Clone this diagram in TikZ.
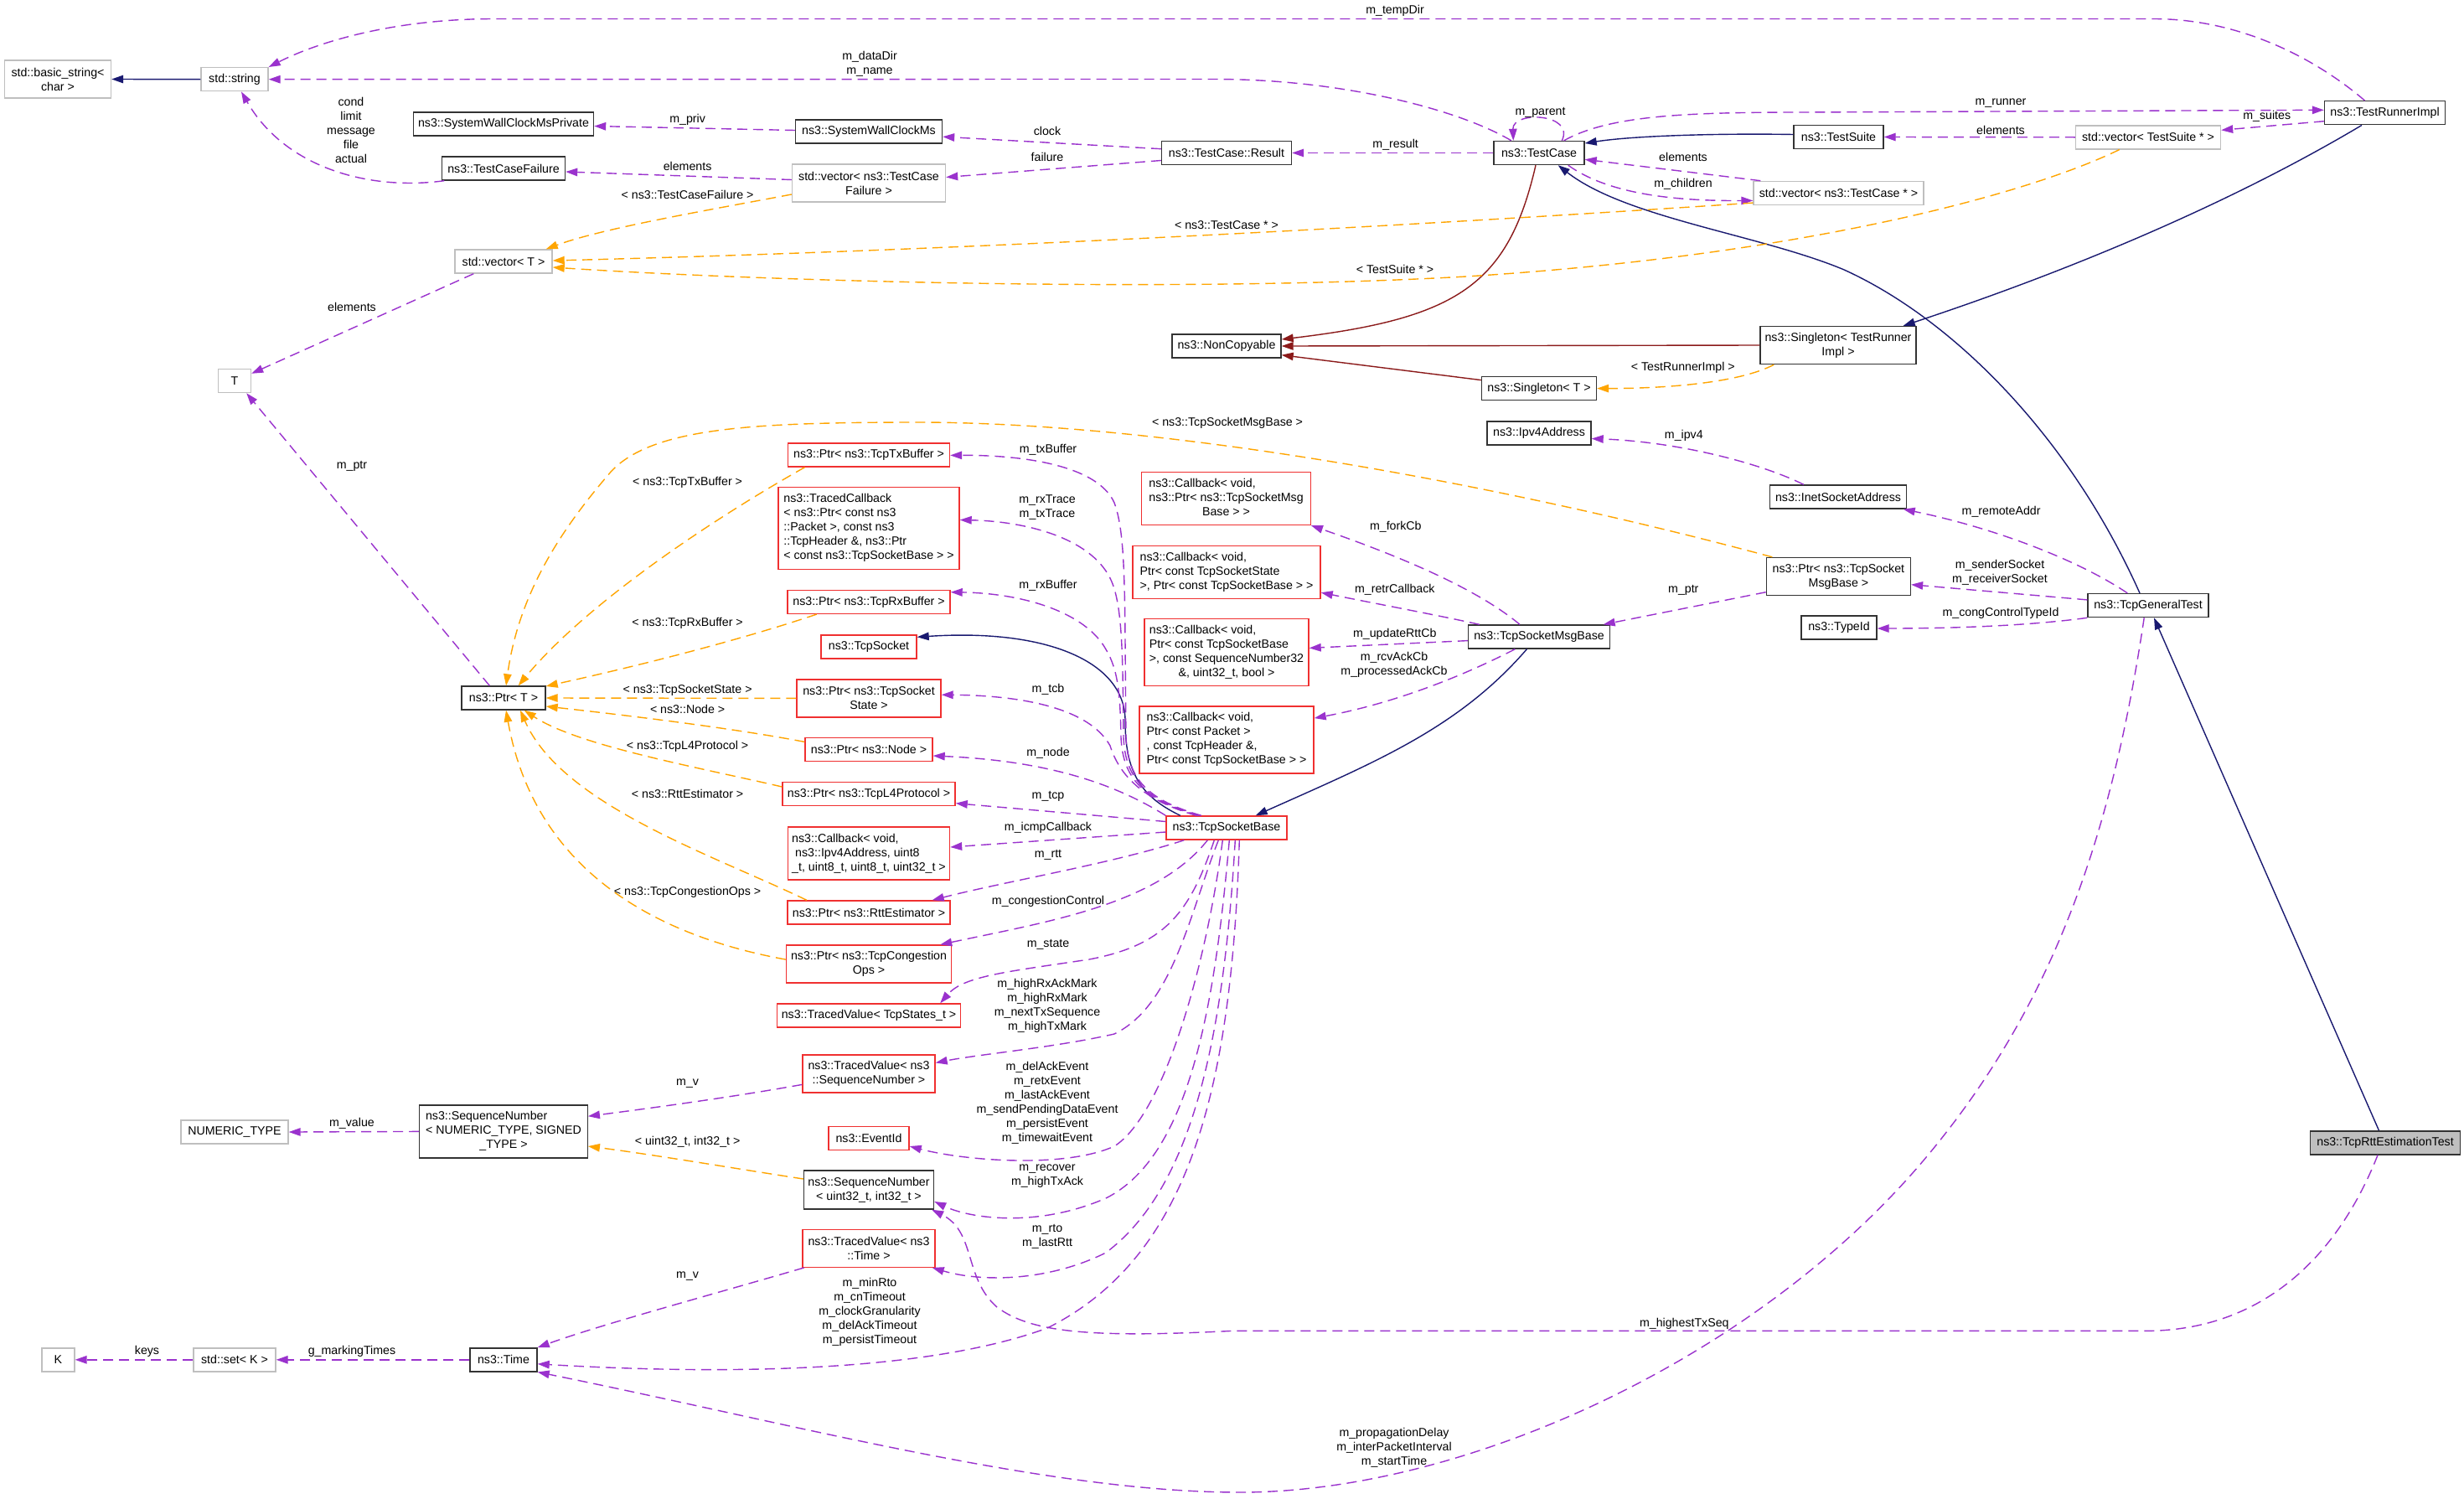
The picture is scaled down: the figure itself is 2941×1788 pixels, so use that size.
\documentclass[tikz,border=0pt]{standalone}
\usepackage{fontspec}
\setmainfont{Liberation Sans}
\usetikzlibrary{arrows.meta,calc}
\definecolor{purp}{HTML}{9A32CD}
\definecolor{orng}{HTML}{FFA500}
\definecolor{navyc}{HTML}{191970}
\definecolor{dred}{HTML}{8B1A1A}
\definecolor{gry}{HTML}{BFBFBF}
\definecolor{redb}{HTML}{F03030}
\newcommand\dfont{\fontsize{14.2}{17}\selectfont}
\newcommand\mlines[2]{\begin{tabular}{@{}l@{}}#1\\\multicolumn{1}{@{}c@{}}{#2}\end{tabular}}
\tikzset{
  box/.style={draw, line width=1.4pt, inner sep=0pt, align=center, font=\dfont, minimum height=28pt},
  gbox/.style={box, draw=gry},
  kbox/.style={box, draw=black!80},
  rbox/.style={box, draw=redb},
  lbl/.style={font=\dfont, inner sep=0pt, align=center},
  edge/.style={line width=1.4pt, -{Triangle[length=14pt,width=9.5pt]}},
  mem/.style={edge, draw=purp, dash pattern=on 12pt off 7pt},
  tpl/.style={edge, draw=orng, dash pattern=on 12pt off 7pt},
  inh/.style={edge, draw=navyc},
  prv/.style={edge, draw=dred},
}
\begin{document}
\begin{tikzpicture}[x=1pt,y=-1pt]
\fill[white] (0,0) rectangle (2941,1788);
% ---------------- nodes ----------------
\node[gbox, minimum width=127pt, minimum height=45pt] (bstr) at (69,94.5) {std::basic\_string<\\char >};
\node[gbox, minimum width=80pt] (nstring) at (280,94.7) {std::string};
\node[kbox, minimum width=215pt] (swcmp) at (601,148) {ns3::SystemWallClockMsPrivate};
\node[kbox, minimum width=147pt] (tcf) at (601,201) {ns3::TestCaseFailure};
\node[gbox, minimum width=116pt] (vecT) at (601,312) {std::vector< T >};
\node[gbox, minimum width=39pt] (nT) at (280,454.5) {T};
\node[kbox, minimum width=100pt] (ptrT) at (601,833) {ns3::Ptr< T >};
\node[kbox, minimum width=175pt] (swcm) at (1037,157) {ns3::SystemWallClockMs};
\node[kbox, minimum width=155pt] (result) at (1464,182.5) {ns3::TestCase::Result};
\node[gbox, minimum width=183pt, minimum height=45pt] (vecTCF) at (1037,218.5) {std::vector< ns3::TestCase\\Failure >};
\node[kbox, minimum width=108pt] (testcase) at (1837,182.5) {ns3::TestCase};
\node[kbox, minimum width=107pt] (testsuite) at (2194.5,163.5) {ns3::TestSuite};
\node[gbox, minimum width=203pt] (vecTC) at (2194.5,230.4) {std::vector< ns3::TestCase * >};
\node[gbox, minimum width=173pt] (vecTS) at (2564,163.8) {std::vector< TestSuite * >};
\node[kbox, minimum width=144pt] (runner) at (2846.5,134.7) {ns3::TestRunnerImpl};
\node[kbox, minimum width=130pt] (noncopy) at (1464,413) {ns3::NonCopyable};
\node[kbox, minimum width=186pt, minimum height=45pt] (singTRI) at (2194,412) {ns3::Singleton< TestRunner\\Impl >};
\node[kbox, minimum width=137pt] (singT) at (1837,463.6) {ns3::Singleton< T >};
\node[kbox, minimum width=124pt] (ipv4) at (1837,517) {ns3::Ipv4Address};
\node[kbox, minimum width=163pt] (inet) at (2194,593) {ns3::InetSocketAddress};
\node[kbox, minimum width=172pt, minimum height=45pt] (ptrTSMB) at (2194.4,688) {ns3::Ptr< ns3::TcpSocket\\MsgBase >};
\node[kbox, minimum width=90pt] (typeid) at (2195,749) {ns3::TypeId};
\node[kbox, minimum width=144pt] (tcpgen) at (2564,722.6) {ns3::TcpGeneralTest};
\node[kbox, fill=gry, minimum width=179pt] (tret) at (2847,1363.8) {ns3::TcpRttEstimationTest};
\node[kbox, minimum width=169pt] (tsmb) at (1837,760) {ns3::TcpSocketMsgBase};
\node[rbox, minimum width=201.5pt, minimum height=63pt] (cbFork) at (1463.5,595) {\mlines{ns3::Callback< void,\\ns3::Ptr< ns3::TcpSocketMsg}{Base > >}};
\node[rbox, minimum width=224pt, minimum height=63pt] (cbRetr) at (1464,683) {\mlines{ns3::Callback< void,\\Ptr< const TcpSocketState}{>, Ptr< const TcpSocketBase > >}};
\node[rbox, minimum width=196pt, minimum height=80pt] (cbRtt) at (1464,778.7) {\mlines{ns3::Callback< void,\\Ptr< const TcpSocketBase\\>, const SequenceNumber32}{\&, uint32\_t, bool >}};
\node[rbox, minimum width=208pt, minimum height=80pt] (cbAck) at (1464,882.8) {\mlines{ns3::Callback< void,\\Ptr< const Packet >\\, const TcpHeader \&,}{Ptr< const TcpSocketBase > >}};
\node[rbox, minimum width=144pt] (tsb) at (1464,988) {ns3::TcpSocketBase};
\node[rbox, minimum width=193pt] (ptrTx) at (1037,543) {ns3::Ptr< ns3::TcpTxBuffer >};
\node[rbox, minimum width=216pt, minimum height=97.5pt] (tracedcb) at (1037,630.5) {\mlines{ns3::TracedCallback\\< ns3::Ptr< const ns3\\::Packet >, const ns3\\::TcpHeader \&, ns3::Ptr}{< const ns3::TcpSocketBase > >}};
\node[rbox, minimum width=194pt] (ptrRx) at (1037,718.4) {ns3::Ptr< ns3::TcpRxBuffer >};
\node[rbox, minimum width=114pt] (tcpsock) at (1037,772) {ns3::TcpSocket};
\node[rbox, minimum width=172pt, minimum height=45pt] (ptrState) at (1037,833.4) {ns3::Ptr< ns3::TcpSocket\\State >};
\node[rbox, minimum width=152pt] (ptrNode) at (1037,894.7) {ns3::Ptr< ns3::Node >};
\node[rbox, minimum width=206pt] (ptrL4) at (1037,947.7) {ns3::Ptr< ns3::TcpL4Protocol >};
\node[rbox, minimum width=193pt, minimum height=63pt] (cbIcmp) at (1037,1018.6) {\mlines{ns3::Callback< void,\\\hspace{4pt}ns3::Ipv4Address, uint8}{\_t, uint8\_t, uint8\_t, uint32\_t >}};
\node[rbox, minimum width=194pt] (ptrRtt) at (1037,1089) {ns3::Ptr< ns3::RttEstimator >};
\node[rbox, minimum width=197pt, minimum height=45pt] (ptrCong) at (1037,1150.6) {ns3::Ptr< ns3::TcpCongestion\\Ops >};
\node[rbox, minimum width=219pt] (tvState) at (1037,1212) {ns3::TracedValue< TcpStates\_t >};
\node[rbox, minimum width=158pt, minimum height=45pt] (tvSeq) at (1037,1281.4) {ns3::TracedValue< ns3\\::SequenceNumber >};
\node[rbox, minimum width=96pt] (eventid) at (1037,1358.6) {ns3::EventId};
\node[kbox, minimum width=155pt, minimum height=46pt] (sn32) at (1037,1420) {ns3::SequenceNumber\\< uint32\_t, int32\_t >};
\node[rbox, minimum width=158pt, minimum height=45pt] (tvTime) at (1037,1489.7) {ns3::TracedValue< ns3\\::Time >};
\node[kbox, minimum width=200.5pt, minimum height=63pt] (snNS) at (601,1350.4) {\mlines{ns3::SequenceNumber\\< NUMERIC\_TYPE, SIGNED}{\_TYPE >}};
\node[gbox, minimum width=128pt] (numeric) at (280,1351) {NUMERIC\_TYPE};
\node[kbox, minimum width=80pt] (time) at (601,1622.8) {ns3::Time};
\node[gbox, minimum width=98pt] (setK) at (280,1622.8) {std::set< K >};
\node[gbox, minimum width=39pt] (nK) at (69.4,1622.8) {K};
% ---------------- inheritance ----------------
\draw[inh] (nstring.west) -- (bstr.east);
\draw[inh] ($(testsuite.west)+(0,-3)$) .. controls (2050,159) and (1950,162) .. ($(testcase.east)+(0,-11.5)$);
\draw[inh] ($(runner.south)+(-27.5,0)$) .. controls (2650,250) and (2450,330) .. ($(singTRI.north east)+(-16,0)$);
\draw[inh] ($(tcpgen.north)+(-10,0)$) .. controls (2470,520) and (2330,380) .. (2200,321.5) .. controls (2100,280) and (1940,260) .. ($(testcase.south east)+(-32,0)$);
\draw[inh] ($(tret.north)+(-7.6,0)$) -- ($(tcpgen.south)+(7,0)$);
\draw[inh] ($(tsmb.south)+(-14.6,0)$) .. controls (1740,870) and (1640,910) .. ($(tsb.north east)+(-38,0)$);
\draw[inh] ($(tsb.north west)+(17.5,0)$) .. controls (1360,950) and (1343,920) .. (1343,860) .. controls (1343,790) and (1250,750) .. ($(tcpsock.east)+(0,-11.7)$);
\draw[prv] ($(testcase.south)+(-4,0)$) .. controls (1800,340) and (1740,380) .. ($(noncopy.east)+(0,-8)$);
\draw[prv] (singTRI.west) -- (noncopy.east);
\draw[prv] ($(singT.north west)+(0,4.7)$) -- ($(noncopy.south east)+(0,-4)$);
% ---------------- members (top) ----------------
\draw[mem] ($(runner.north)+(-24,0)$) .. controls (2770,75) and (2680,22.5) .. (2570,22.5) -- (590,22.5) .. controls (470,22.5) and (380,50) .. (nstring.north east);
\draw[mem] ($(testcase.north west)+(21.5,0)$) .. controls (1740,130) and (1600,94.5) .. (1450,94.5) -- (nstring.east);
\draw[mem] ($(tcf.south west)+(3.5,0)$) .. controls (440,228) and (340,200) .. ($(nstring.south)+(8,0)$);
\draw[mem] ($(swcm.west)+(0,-1.5)$) -- ($(swcmp.east)+(0,2.5)$);
\draw[mem] ($(result.west)+(0,-4.8)$) -- ($(swcm.east)+(0,6.2)$);
\draw[mem] ($(result.west)+(0,9)$) -- ($(vecTCF.east)+(0,-7)$);
\draw[mem] ($(vecTCF.west)+(0,-4)$) -- ($(tcf.east)+(0,4)$);
\draw[mem] (vecTS.west) -- (testsuite.east);
\draw[mem] ($(runner.west)+(0,10)$) -- ($(vecTS.east)+(0,-8.5)$);
\draw[mem] ($(testcase.north east)+(-25,0)$) .. controls (1920,138) and (2010,134) .. (2150,134) -- ($(runner.west)+(0,-3.4)$);
\draw[mem] ($(testcase.north west)+(82,0)$) .. controls (1880,135) and (1805,132) .. ($(testcase.north west)+(24,0)$);
\draw[mem] (testcase.west) -- (result.east);
\draw[mem] ($(vecTC.north west)+(9,0)$) -- ($(testcase.east)+(0,7.8)$);
\draw[mem] ($(testcase.south east)+(-20,0)$) .. controls (1920,232) and (2000,240) .. ($(vecTC.west)+(0,9)$);
\draw[mem] ($(inet.north west)+(41,0)$) .. controls (2100,552) and (2000,527) .. ($(ipv4.east)+(0,6.5)$);
\draw[mem] ($(tcpgen.north west)+(48,0)$) .. controls (2480,668) and (2380,630) .. ($(inet.south east)+(-4.5,0)$);
\draw[mem] ($(tcpgen.west)+(0,-6.7)$) -- ($(ptrTSMB.east)+(0,9.7)$);
\draw[mem] (tcpgen.south west) .. controls (2420,747) and (2330,750) .. ($(typeid.east)+(0,1)$);
\draw[mem] ($(ptrTSMB.west)+(0,18.7)$) -- ($(tsmb.north east)+(-8.5,0)$);
\draw[mem] ($(tsmb.north)+(-23,0)$) .. controls (1760,700) and (1660,660) .. (cbFork.south east);
\draw[mem] ($(tsmb.north west)+(14,0)$) .. controls (1720,735) and (1640,720) .. ($(cbRetr.south east)+(0,-8)$);
\draw[mem] ($(tsmb.west)+(0,4.6)$) -- ($(cbRtt.east)+(0,-5.3)$);
\draw[mem] ($(tsmb.south west)+(56.5,0)$) .. controls (1730,815) and (1650,842) .. ($(cbAck.north east)+(0,15)$);
% ---------------- members of TcpSocketBase ----------------
\draw[mem] ($(tsb.north)+(-30,0)$) .. controls (1370,955) and (1346,930) .. (1344,880) .. controls (1342,720) and (1345,640) .. (1330,600) .. controls (1310,555) and (1220,543) .. ($(ptrTx.east)+(0,0.4)$);
\draw[mem] ($(tsb.north)+(-32,0)$) .. controls (1368,955) and (1343,930) .. (1341,880) .. controls (1340,780) and (1340,720) .. (1325,690) .. controls (1300,640) and (1220,622) .. ($(tracedcb.east)+(0,-10)$);
\draw[mem] ($(tsb.north)+(-34,0)$) .. controls (1366,955) and (1340,930) .. (1338,880) .. controls (1337,830) and (1335,800) .. (1320,775) .. controls (1295,730) and (1220,708) .. ($(ptrRx.east)+(0,-11.7)$);
\draw[mem] ($(tsb.north)+(-36,0)$) .. controls (1364,955) and (1336,925) .. (1325,890) .. controls (1300,845) and (1220,830) .. ($(ptrState.east)+(0,-4.2)$);
\draw[mem] (tsb.north west) .. controls (1330,935) and (1250,908) .. ($(ptrNode.east)+(0,7.3)$);
\draw[mem] ($(tsb.west)+(0,-7.5)$) -- ($(ptrL4.east)+(0,11)$);
\draw[mem] ($(tsb.west)+(0,5)$) -- ($(cbIcmp.east)+(0,-7.6)$);
\draw[mem] ($(tsb.south west)+(22,0)$) .. controls (1330,1030) and (1200,1052) .. ($(ptrRtt.north east)+(-22,0)$);
\draw[mem] ($(tsb.south west)+(50,0)$) .. controls (1380,1080) and (1250,1100) .. ($(ptrCong.north east)+(-14,0)$);
\draw[mem] ($(tsb.south west)+(58,0)$) .. controls (1420,1090) and (1390,1128) .. (1300,1145) .. controls (1200,1160) and (1150,1165) .. ($(tvState.north east)+(-25,0)$);
\draw[mem] ($(tsb.south west)+(63,0)$) .. controls (1420,1090) and (1400,1200) .. (1330,1234) .. controls (1260,1250) and (1170,1258) .. ($(tvSeq.east)+(0,-13)$);
\draw[mem] ($(tsb.south west)+(68,0)$) .. controls (1440,1150) and (1390,1330) .. (1330,1368) .. controls (1270,1395) and (1150,1385) .. ($(eventid.east)+(0,9.4)$);
\draw[mem] ($(tsb.south west)+(76,0)$) .. controls (1450,1200) and (1420,1380) .. (1320,1430) .. controls (1240,1465) and (1160,1455) .. ($(sn32.east)+(0,14)$);
\draw[mem] ($(tsb.south west)+(83,0)$) .. controls (1460,1250) and (1420,1420) .. (1320,1495) .. controls (1250,1530) and (1170,1530) .. ($(tvTime.south east)+(-4,0)$);
\draw[mem] ($(tsb.south west)+(88,0)$) .. controls (1470,1300) and (1420,1500) .. (1250,1585) .. controls (1100,1640) and (850,1640) .. ($(time.east)+(0,5)$);
% ---------------- bottom members ----------------
\draw[mem] ($(tret.south)+(-9,0)$) .. controls (2790,1500) and (2700,1588.4) .. (2560,1588.4) -- (1470,1588.4) .. controls (1300,1597) and (1230,1590) .. (1190,1560) .. controls (1150,1525) and (1165,1470) .. ($(sn32.south east)+(-3,0)$);
\draw[mem] ($(tcpgen.south)+(-4.8,0)$) .. controls (2520,1000) and (2450,1200) .. (2300,1380) .. controls (2100,1620) and (1750,1781) .. (1480,1781) .. controls (1250,1781) and (950,1700) .. (time.south east);
\draw[mem] ($(tvTime.south west)+(2.5,0)$) .. controls (850,1545) and (720,1580) .. (time.north east);
\draw[mem] ($(tvSeq.west)+(0,13)$) .. controls (870,1310) and (780,1322) .. ($(snNS.north east)+(0,14)$);
\draw[mem] (snNS.west) -- (numeric.east);
\draw[mem] (time.west) -- (setK.east);
\draw[mem] (setK.west) -- (nK.east);
\draw[mem] ($(ptrT.north west)+(34,0)$) -- ($(nT.south east)+(-6,0)$);
\draw[mem] ($(vecT.south west)+(23,0)$) -- ($(nT.north east)+(0,6)$);
% ---------------- template instantiations ----------------
\draw[tpl] ($(vecTCF.west)+(0,13.5)$) .. controls (850,250) and (720,272) .. ($(vecT.north east)+(-8,0)$);
\draw[tpl] ($(vecTC.south west)+(0,-3)$) .. controls (1600,275) and (1100,300) .. ($(vecT.east)+(0,-1)$);
\draw[tpl] ($(vecTS.south west)+(53,0)$) .. controls (2420,232) and (2150,305) .. (1750,330) .. controls (1400,350) and (900,335) .. ($(vecT.east)+(0,7)$);
\draw[tpl] ($(singTRI.south west)+(17,0)$) .. controls (2080,455) and (2000,463.6) .. (singT.east);
\draw[tpl] ($(ptrTSMB.north west)+(7.6,0)$) .. controls (1800,580) and (1400,505) .. (1100,504) .. controls (900,504) and (780,510) .. (730,562) .. controls (680,620) and (620,700) .. ($(ptrT.north)+(3,0)$);
\draw[tpl] ($(ptrTx.south west)+(20.7,0)$) .. controls (850,620) and (700,720) .. ($(ptrT.north east)+(-33,0)$);
\draw[tpl] ($(ptrRx.south west)+(35.4,0)$) .. controls (880,765) and (760,795) .. ($(ptrT.east)+(0,-14)$);
\draw[tpl] (ptrState.west) -- (ptrT.east);
\draw[tpl] ($(ptrNode.west)+(0,-9.3)$) .. controls (880,870) and (760,855) .. ($(ptrT.east)+(0,10)$);
\draw[tpl] ($(ptrL4.west)+(0,-8.7)$) .. controls (830,915) and (690,890) .. ($(ptrT.south east)+(-26,0)$);
\draw[tpl] ($(ptrRtt.north west)+(23.6,0)$) .. controls (850,1020) and (670,960) .. ($(ptrT.south)+(20,0)$);
\draw[tpl] ($(ptrCong.west)+(0,-5.5)$) .. controls (800,1120) and (640,1050) .. ($(ptrT.south)+(3,0)$);
\draw[tpl] ($(sn32.west)+(0,-13)$) .. controls (880,1395) and (780,1378) .. ($(snNS.east)+(0,17.6)$);
% ---------------- labels ----------------
\node[lbl] (l01) at (1665,12.6) {m\_tempDir};
\node[lbl] (l02) at (1038,76) {m\_dataDir\\m\_name};
\node[lbl] (l03) at (419,155) {cond\\limit\\message\\file\\actual};
\node[lbl] (l04) at (820.6,142.7) {m\_priv};
\node[lbl] (l05) at (1250,156.5) {clock};
\node[lbl] (l06) at (1250,187) {failure};
\node[lbl] (l07) at (820.6,198.6) {elements};
\node[lbl] (l08) at (820.6,232) {< ns3::TestCaseFailure >};
\node[lbl] (l09) at (1464,269) {< ns3::TestCase * >};
\node[lbl] (l10) at (1665,321) {< TestSuite * >};
\node[lbl] (l11) at (420,366.6) {elements};
\node[lbl] (l12) at (420,556.8) {m\_ptr};
\node[lbl] (l13) at (1838.5,134.7) {m\_parent};
\node[lbl] (l14) at (1665.7,172.6) {m\_result};
\node[lbl] (l15) at (2009,187.5) {elements};
\node[lbl] (l16) at (2009,219.7) {m\_children};
\node[lbl] (l17) at (2388,122.8) {m\_runner};
\node[lbl] (l18) at (2705.7,138.5) {m\_suites};
\node[lbl] (l19) at (2388,155) {elements};
\node[lbl] (l20) at (2008.8,439) {< TestRunnerImpl >};
\node[lbl] (l21) at (2009.8,519.7) {m\_ipv4};
\node[lbl] (l22) at (1465,505) {< ns3::TcpSocketMsgBase >};
\node[lbl] (l23) at (2388.6,610.3) {m\_remoteAddr};
\node[lbl] (l24) at (2387,683) {m\_senderSocket\\m\_receiverSocket};
\node[lbl] (l25) at (2388,731.6) {m\_congControlTypeId};
\node[lbl] (l26) at (2009.3,704.8) {m\_ptr};
\node[lbl] (l27) at (1665.8,628.3) {m\_forkCb};
\node[lbl] (l28) at (1664.8,703.7) {m\_retrCallback};
\node[lbl] (l29) at (1664.8,756.9) {m\_updateRttCb};
\node[lbl] (l30) at (1664,793.8) {m\_rcvAckCb\\m\_processedAckCb};
\node[lbl] (l31) at (1251,536.5) {m\_txBuffer};
\node[lbl] (l32) at (820.6,576) {< ns3::TcpTxBuffer >};
\node[lbl] (l33) at (1250,605.5) {m\_rxTrace\\m\_txTrace};
\node[lbl] (l34) at (1251,698.3) {m\_rxBuffer};
\node[lbl] (l35) at (820.6,743.5) {< ns3::TcpRxBuffer >};
\node[lbl] (l36) at (1251,822.3) {m\_tcb};
\node[lbl] (l37) at (820.6,823.4) {< ns3::TcpSocketState >};
\node[lbl] (l38) at (820.6,846.4) {< ns3::Node >};
\node[lbl] (l39) at (1251,898.5) {m\_node};
\node[lbl] (l40) at (820.6,890.8) {< ns3::TcpL4Protocol >};
\node[lbl] (l41) at (1251,950.5) {m\_tcp};
\node[lbl] (l42) at (820.6,947.8) {< ns3::RttEstimator >};
\node[lbl] (l43) at (1251,987.6) {m\_icmpCallback};
\node[lbl] (l44) at (1251,1020.5) {m\_rtt};
\node[lbl] (l45) at (820.6,1064.6) {< ns3::TcpCongestionOps >};
\node[lbl] (l46) at (1251,1075.6) {m\_congestionControl};
\node[lbl] (l47) at (1251,1127) {m\_state};
\node[lbl] (l48) at (1250,1200.6) {m\_highRxAckMark\\m\_highRxMark\\m\_nextTxSequence\\m\_highTxMark};
\node[lbl] (l49) at (820.6,1292.8) {m\_v};
\node[lbl] (l50) at (1250,1316) {m\_delAckEvent\\m\_retxEvent\\m\_lastAckEvent\\m\_sendPendingDataEvent\\m\_persistEvent\\m\_timewaitEvent};
\node[lbl] (l51) at (820.6,1362.7) {< uint32\_t, int32\_t >};
\node[lbl] (l52) at (420,1340.5) {m\_value};
\node[lbl] (l53) at (1250,1404) {m\_recover\\m\_highTxAck};
\node[lbl] (l54) at (1250,1476) {m\_rto\\m\_lastRtt};
\node[lbl] (l55) at (820.6,1522.8) {m\_v};
\node[lbl] (l56) at (1038,1566) {m\_minRto\\m\_cnTimeout\\m\_clockGranularity\\m\_delAckTimeout\\m\_persistTimeout};
\node[lbl] (l57) at (2010.3,1579.4) {m\_highestTxSeq};
\node[lbl] (l58) at (1664,1727.7) {m\_propagationDelay\\m\_interPacketInterval\\m\_startTime};
\node[lbl] (l59) at (175.5,1612.4) {keys};
\node[lbl] (l60) at (420,1612.4) {g\_markingTimes};
\end{tikzpicture}
\end{document}
